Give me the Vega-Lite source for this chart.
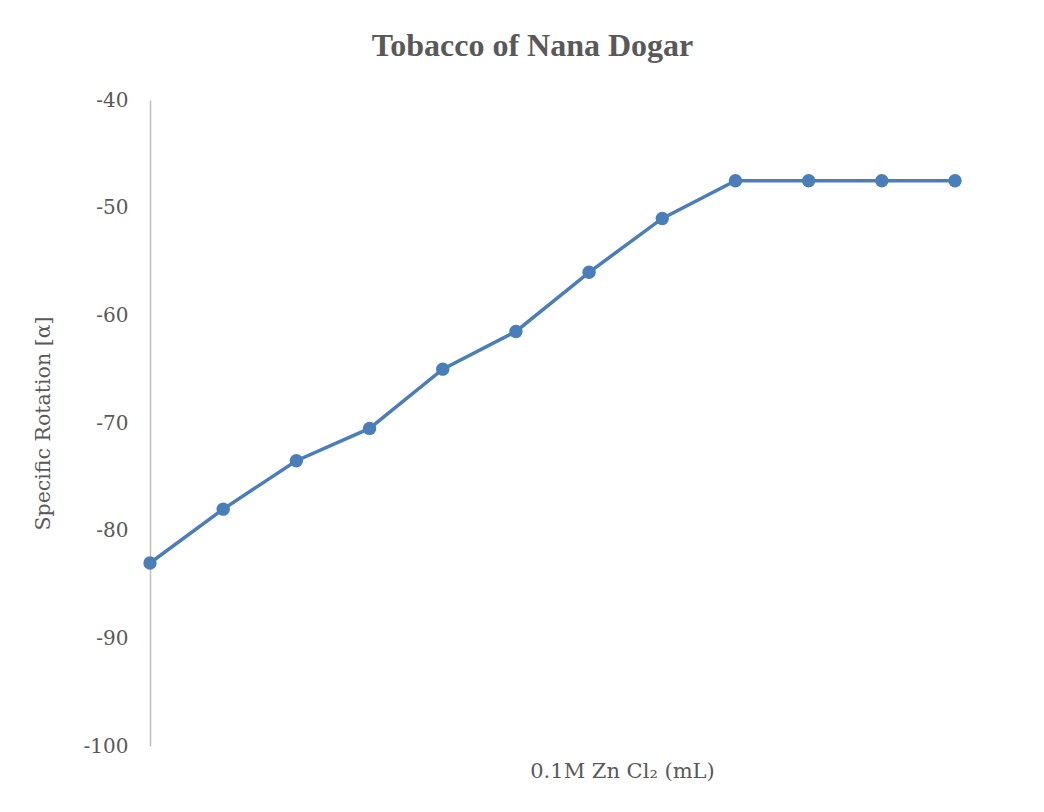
{
  "$schema": "https://vega.github.io/schema/vega-lite/v6.json",
  "width": 805,
  "height": 646,
  "autosize": {"type": "none"},
  "padding": {"left": 150, "top": 100, "right": 89, "bottom": 66},
  "background": "white",
  "config": {"view": {"stroke": null}},
  "title": {
    "text": "Tobacco of Nana Dogar",
    "font": "Liberation Serif",
    "fontSize": 32,
    "fontWeight": "bold",
    "color": "#595959",
    "anchor": "middle",
    "baseline": "alphabetic",
    "offset": 2,
    "dx": -20
  },
  "data": {
    "values": [
      {"step": 1, "rotation": -83},
      {"step": 2, "rotation": -78},
      {"step": 3, "rotation": -73.5},
      {"step": 4, "rotation": -70.5},
      {"step": 5, "rotation": -65},
      {"step": 6, "rotation": -61.5},
      {"step": 7, "rotation": -56},
      {"step": 8, "rotation": -51},
      {"step": 9, "rotation": -47.5},
      {"step": 10, "rotation": -47.5},
      {"step": 11, "rotation": -47.5},
      {"step": 12, "rotation": -47.5}
    ]
  },
  "mark": {"type": "line", "color": "#4a7ebb", "strokeWidth": 3.5, "point": {"filled": true, "size": 180, "color": "#4a7ebb", "opacity": 1}},
  "encoding": {
    "x": {
      "field": "step",
      "type": "quantitative",
      "scale": {"domain": [1, 12], "nice": false, "zero": false},
      "axis": {
        "title": "0.1M Zn Cl₂ (mL)",
        "domain": false,
        "ticks": false,
        "labels": false,
        "grid": false,
        "titleFont": "DejaVu Serif",
        "titleFontSize": 21,
        "titleFontWeight": "normal",
        "titleColor": "#595959",
        "titlePadding": 14,
        "titleX": 472
      }
    },
    "y": {
      "field": "rotation",
      "type": "quantitative",
      "scale": {"domain": [-100, -40], "nice": false, "zero": false},
      "axis": {
        "title": "Specific Rotation [α]",
        "values": [-100, -90, -80, -70, -60, -50, -40],
        "labelExpr": "'' + datum.value",
        "grid": false,
        "ticks": false,
        "domainColor": "#bfbfbf",
        "domainWidth": 1.5,
        "labelFont": "DejaVu Serif",
        "labelFontSize": 20,
        "labelColor": "#595959",
        "labelPadding": 22,
        "titleFont": "DejaVu Serif",
        "titleFontSize": 20.5,
        "titleFontWeight": "normal",
        "titleColor": "#595959",
        "titleAngle": -90,
        "titleBaseline": "middle",
        "titleX": -107,
        "titleY": 323
      }
    }
  }
}
